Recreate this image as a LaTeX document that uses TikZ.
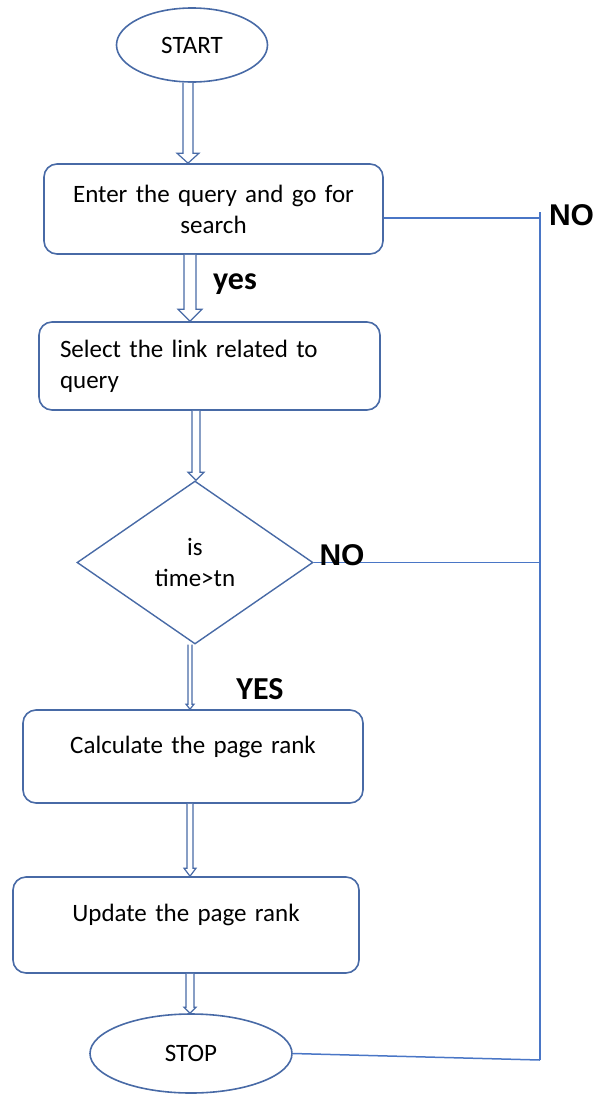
\documentclass[tikz,border=0pt]{standalone}
\usepackage{fontspec}
\setmainfont{Carlito}
\newfontfamily\arialf{Liberation Sans}
\usetikzlibrary{shapes.geometric,calc}
\definecolor{shapeblue}{RGB}{72,106,166}
\definecolor{lineblue}{RGB}{74,118,198}
\tikzset{
  txt/.style={font=\fontsize{25}{31}\selectfont},
  terminal/.style={ellipse, draw=shapeblue, line width=1.6pt, inner sep=0pt, txt},
  procbox/.style={rectangle, rounded corners=13pt, draw=shapeblue, line width=1.6pt, inner sep=0pt, txt},
  decision/.style={diamond, draw=shapeblue, line width=1.4pt, inner sep=0pt, align=center, txt},
  conn/.style={draw=lineblue, line width=1.5pt},
  harrowst/.style={draw=shapeblue, line width=1.2pt, fill=white, line join=miter},
  boldlbl/.style={font=\fontsize{32}{36}\selectfont\bfseries, inner sep=0pt},
  nolbl/.style={font=\arialf\fontsize{30}{34}\selectfont\bfseries, inner sep=0pt}
}
% hollow block arrow: from node anchor, to node anchor, x, shaft half-width, head half-width, head length
\newcommand\harrow[6]{%
  \draw[harrowst] let \p1=(#1), \p2=(#2) in
    (#3pt-#4pt,\y1) -- (#3pt-#4pt,\y2+#6pt) -- (#3pt-#5pt,\y2+#6pt) -- (#3pt,\y2)
    -- (#3pt+#5pt,\y2+#6pt) -- (#3pt+#4pt,\y2+#6pt) -- (#3pt+#4pt,\y1);}
\begin{document}
\begin{tikzpicture}[x=1pt,y=1pt]
\useasboundingbox (0,0) rectangle (597,-1095);

\node[terminal, minimum width=151pt, minimum height=74pt] (start) at (192,-45) {START};
\node[procbox, minimum width=339pt, minimum height=90pt, text width=305pt, align=center] (box1) at (213.5,-209) {Enter the query and go for\\search};
\node[procbox, minimum width=341pt, minimum height=88pt, text width=299pt, align=left] (box2) at (209.5,-366) {Select the link related to\\query};
\node[decision, minimum width=236pt, minimum height=163pt] (dia) at (195,-562.5) {is\\time>tn};
\node[procbox, minimum width=340pt, minimum height=93pt, text width=300pt, align=center] (box3) at (193,-756.5) {Calculate the page rank\\[-17pt]\strut};
\node[procbox, minimum width=346pt, minimum height=96pt, text width=300pt, align=center] (box4) at (186,-925) {Update the page rank\\[-16pt]\strut};
\node[terminal, minimum width=202pt, minimum height=79pt] (stop) at (191,-1053.5) {STOP};

% hollow arrows
\harrow{start.south}{box1.north}{188}{5}{11}{10}
\harrow{box1.south}{box2.north}{190}{6}{12}{12}
\harrow{box2.south}{dia.north}{196}{4}{8}{8}
\harrow{dia.south}{box3.north}{190}{2}{4}{5}
\harrow{box3.south}{box4.north}{190}{3}{6}{8}
\harrow{box4.south}{stop.north}{190}{4}{6}{6}

% right-hand NO line
\coordinate (jtop) at (540,-212);
\coordinate (j1) at (540,-218);
\coordinate (j3) at (540,-1060);
\draw[conn] (box1.east |- j1) -- (j1);
\draw[conn] (dia.east) -- (dia.east -| j1);
\draw[conn] (stop.east) -- (j3);
\draw[conn] (jtop) -- (j3);

% labels
\node[nolbl] (no1) at (571.5,-215) {NO};
\node[nolbl] (no2) at (342,-555) {NO};
\node[boldlbl] (yes1) at (235,-284) {yes};
\node[boldlbl] (yes2) at (260,-689) {YES};
\end{tikzpicture}
\end{document}
